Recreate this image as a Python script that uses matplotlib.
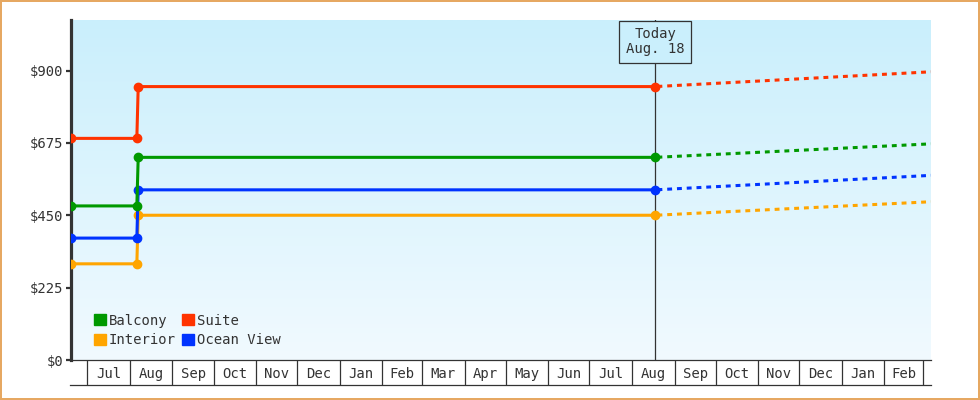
import datetime as dt
import numpy as np
import pandas as pd
import matplotlib
matplotlib.use('Agg')
import matplotlib.pyplot as plt
import matplotlib.dates as mdates
from matplotlib.lines import Line2D
from matplotlib.patches import Patch

plt.rcParams['font.family'] = ['DejaVu Sans Mono']

# Date delle quotazioni (storico) e della proiezione
hist_dates = [dt.date(2023, 6, 19), dt.date(2023, 8, 6), dt.date(2023, 8, 7), dt.date(2024, 8, 18)]
proj_dates = [dt.date(2024, 8, 18), dt.date(2025, 3, 7)]
today = dt.date(2024, 8, 18)

# Prezzi [$] per cabina
cabins = ['Interior', 'Ocean View', 'Balcony', 'Suite']
colors = {'Balcony': '#009900', 'Suite': '#ff3300', 'Interior': '#ffa500', 'Ocean View': '#0033ff'}
hist = {
    'Interior':   [299, 299, 450, 450],
    'Ocean View': [379, 379, 529, 529],
    'Balcony':    [479, 479, 630, 630],
    'Suite':      [689, 689, 850, 850],
}
proj = {
    'Interior':   [450, 492],
    'Ocean View': [529, 574],
    'Balcony':    [630, 672],
    'Suite':      [850, 896],
}

yticks = [0, 225, 450, 675, 900]
ytick_labels = ['$0', '$225', '$450', '$675', '$900']
month_labels = ['Jul', 'Aug', 'Sep', 'Oct', 'Nov', 'Dec', 'Jan', 'Feb', 'Mar', 'Apr',
                'May', 'Jun', 'Jul', 'Aug', 'Sep', 'Oct', 'Nov', 'Dec', 'Jan', 'Feb']

dark = '#333333'

fig = plt.figure(figsize=(9.8, 4), dpi=100)
ax = fig.add_axes([71 / 980, 40 / 400, 860 / 980, 340 / 400])

x0, x1 = mdates.date2num(dt.date(2023, 6, 19)), mdates.date2num(dt.date(2025, 3, 7))
ax.set_xlim(x0, x1)
ax.set_ylim(0, 1057)

# sfondo sfumato
grad = np.linspace(0, 1, 256).reshape(-1, 1)
cmap = matplotlib.colors.LinearSegmentedColormap.from_list('bg', ['#f1faff', '#caeffc'])
ax.imshow(grad, aspect='auto', cmap=cmap, origin='lower',
          extent=[x0, x1, 0, 1057], zorder=0)

for c in cabins:
    ax.plot(hist_dates, hist[c], color=colors[c], lw=2.2, marker='o', ms=6,
            solid_joinstyle='miter', zorder=3)
    ax.plot(proj_dates, proj[c], color=colors[c], lw=2.2,
            linestyle=(2.5, (1.6, 1.6)), zorder=2)

ax.axvline(mdates.date2num(today), color=dark, lw=0.9, zorder=2.5)
ax.annotate('Today\nAug. 18', xy=(mdates.date2num(today), 1057), xytext=(0, -5.2),
            textcoords='offset points', ha='center', va='top',
            fontsize=10, color=dark, linespacing=1.1, zorder=4,
            bbox=dict(boxstyle='square,pad=0.48', fc='#caeffc', ec=dark, lw=0.9))

# assi
for s in ['top', 'right']:
    ax.spines[s].set_visible(False)
ax.spines['left'].set_linewidth(2.3)
ax.spines['left'].set_color(dark)
ax.spines['bottom'].set_linewidth(0.9)
ax.spines['bottom'].set_color(dark)

ax.set_yticks(yticks)
ax.set_yticklabels(ytick_labels)
ax.tick_params(axis='y', length=3.6, width=1.6, color=dark, pad=2, labelsize=10, labelcolor=dark)

month_starts = pd.date_range('2023-07-01', '2025-03-01', freq='MS')
mids = month_starts[:-1] + (month_starts[1:] - month_starts[:-1]) / 2
ax.set_xticks(mdates.date2num(month_starts.to_pydatetime()))
ax.set_xticklabels([])
ax.tick_params(axis='x', which='major', length=18, width=0.9, color=dark, direction='out')
ax.set_xticks(mdates.date2num(mids.to_pydatetime()), minor=True)
ax.set_xticklabels(month_labels, minor=True)
ax.tick_params(axis='x', which='minor', length=0, pad=5, labelsize=10, labelcolor=dark)

fig.add_artist(Line2D([70 / 980, 931 / 980], [15 / 400, 15 / 400], color=dark, lw=0.9))

handles = [Patch(color=colors[n]) for n in ['Balcony', 'Interior', 'Suite', 'Ocean View']]
ax.legend(handles, ['Balcony', 'Interior', 'Suite', 'Ocean View'], ncol=2, loc='lower left',
          bbox_to_anchor=(0.012, 0.0), frameon=False, fontsize=10, handlelength=0.85,
          handleheight=0.85, handletextpad=0.2, columnspacing=0.5, labelspacing=0.42,
          labelcolor=dark)

fig.patch.set_edgecolor('#e6a862')
fig.patch.set_linewidth(1.5)

fig.savefig('out.png', dpi=100, edgecolor=fig.get_edgecolor())
